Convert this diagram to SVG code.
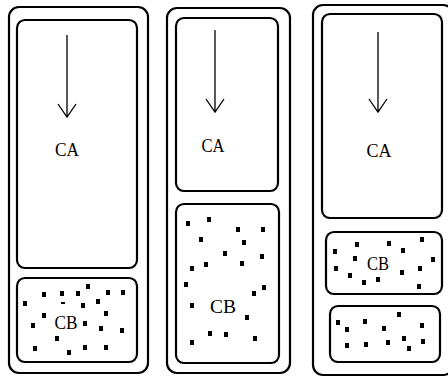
<svg xmlns="http://www.w3.org/2000/svg" width="448" height="377" viewBox="0 0 448 377">
<style>
.box{fill:none;stroke:#000;stroke-width:2.2}
.lbl{font-family:"Liberation Serif",serif;font-size:19px;text-anchor:middle;fill:#000}
.arr{stroke:#000;stroke-width:1.3;fill:none}
.d{fill:#000}
</style>
<rect width="448" height="377" fill="#fff"/>
<g id="panel1">
<rect class="box" x="9" y="7" width="139" height="366" rx="10"/>
<g id="p1-ca"><rect class="box" x="17" y="20" width="120" height="248" rx="8"/>
<text class="lbl" x="67" y="156" textLength="24" lengthAdjust="spacingAndGlyphs">CA</text></g>
<g id="p1-cb"><rect class="box" x="17" y="278" width="120" height="84" rx="8"/>
<text class="lbl" x="66" y="329" textLength="23" lengthAdjust="spacingAndGlyphs">CB</text>
<g class="d">
<rect x="42" y="292" width="4" height="5"/><rect x="60" y="291" width="4" height="5"/><rect x="76" y="291" width="4" height="5"/><rect x="86" y="284" width="4" height="5"/><rect x="106" y="290" width="4" height="5"/><rect x="121" y="290" width="4" height="5"/><rect x="23" y="301" width="4" height="5"/><rect x="61" y="302" width="4" height="2"/><rect x="81" y="303" width="4" height="5"/><rect x="96" y="299" width="4" height="5"/><rect x="42" y="313" width="4" height="5"/><rect x="31" y="323" width="4" height="5"/><rect x="83" y="321" width="4" height="5"/><rect x="104" y="311" width="4" height="5"/><rect x="99" y="326" width="4" height="5"/><rect x="120" y="328" width="4" height="5"/><rect x="55" y="336" width="4" height="5"/><rect x="33" y="346" width="4" height="5"/><rect x="67" y="350" width="4" height="5"/><rect x="83" y="345" width="4" height="5"/><rect x="104" y="345" width="4" height="5"/>
</g></g>
</g>
<g id="panel2">
<rect class="box" x="167" y="8" width="123" height="365" rx="10"/>
<g id="p2-ca"><rect class="box" x="176" y="18" width="102" height="173" rx="8"/>
<text class="lbl" x="213" y="152" textLength="23" lengthAdjust="spacingAndGlyphs">CA</text></g>
<g id="p2-cb"><rect class="box" x="176" y="204" width="103" height="159" rx="8"/>
<text class="lbl" x="223" y="313" textLength="26" lengthAdjust="spacingAndGlyphs">CB</text>
<g class="d">
<rect x="186" y="221" width="4" height="5"/><rect x="207" y="217" width="4" height="5"/><rect x="236" y="227" width="4" height="5"/><rect x="261" y="227" width="4" height="5"/><rect x="199" y="237" width="4" height="5"/><rect x="242" y="240" width="4" height="5"/><rect x="223" y="251" width="4" height="5"/><rect x="260" y="254" width="4" height="5"/><rect x="190" y="266" width="4" height="5"/><rect x="204" y="262" width="4" height="5"/><rect x="240" y="261" width="4" height="5"/><rect x="184" y="282" width="4" height="5"/><rect x="262" y="285" width="4" height="5"/><rect x="252" y="291" width="4" height="5"/><rect x="190" y="303" width="4" height="5"/><rect x="245" y="315" width="4" height="5"/><rect x="208" y="331" width="4" height="5"/><rect x="224" y="332" width="4" height="5"/><rect x="253" y="336" width="4" height="5"/><rect x="190" y="340" width="4" height="5"/>
</g></g>
</g>
<g id="panel3">
<rect class="box" x="313" y="5" width="140" height="370" rx="10"/>
<g id="p3-ca"><rect class="box" x="322" y="14" width="120" height="204" rx="8"/>
<text class="lbl" x="379" y="157" textLength="25" lengthAdjust="spacingAndGlyphs">CA</text></g>
<g id="p3-cb"><rect class="box" x="326" y="232" width="116" height="62" rx="8"/>
<text class="lbl" x="378" y="270" textLength="22" lengthAdjust="spacingAndGlyphs">CB</text>
<g class="d">
<rect x="333" y="249" width="4" height="5"/><rect x="355" y="242" width="4" height="5"/><rect x="387" y="241" width="4" height="5"/><rect x="420" y="237" width="4" height="5"/><rect x="401" y="248" width="4" height="5"/><rect x="353" y="256" width="4" height="5"/><rect x="334" y="266" width="4" height="5"/><rect x="348" y="273" width="4" height="5"/><rect x="362" y="280" width="4" height="5"/><rect x="376" y="277" width="4" height="5"/><rect x="400" y="270" width="4" height="5"/><rect x="418" y="266" width="4" height="5"/><rect x="431" y="257" width="4" height="5"/><rect x="417" y="284" width="4" height="5"/>
</g></g>
<g id="p3-bottom"><rect class="box" x="330" y="306" width="110" height="56" rx="8"/>
<g class="d">
<rect x="336" y="320" width="4" height="5"/><rect x="345" y="327" width="4" height="5"/><rect x="363" y="319" width="4" height="5"/><rect x="382" y="326" width="4" height="5"/><rect x="397" y="312" width="4" height="5"/><rect x="420" y="323" width="4" height="5"/><rect x="345" y="343" width="4" height="5"/><rect x="364" y="342" width="4" height="5"/><rect x="386" y="340" width="4" height="5"/><rect x="402" y="336" width="4" height="5"/><rect x="407" y="346" width="4" height="5"/><rect x="421" y="339" width="4" height="5"/>
</g></g>
</g>
<g id="connectors">
<path class="arr" d="M67 35 L67 117 M58 104 L67 117 L76 104"/>
<path class="arr" d="M215 30 L215 112 M206 99 L215 112 L224 99"/>
<path class="arr" d="M378 32 L378 112 M369 99 L378 112 L387 99"/>
</g>
</svg>
